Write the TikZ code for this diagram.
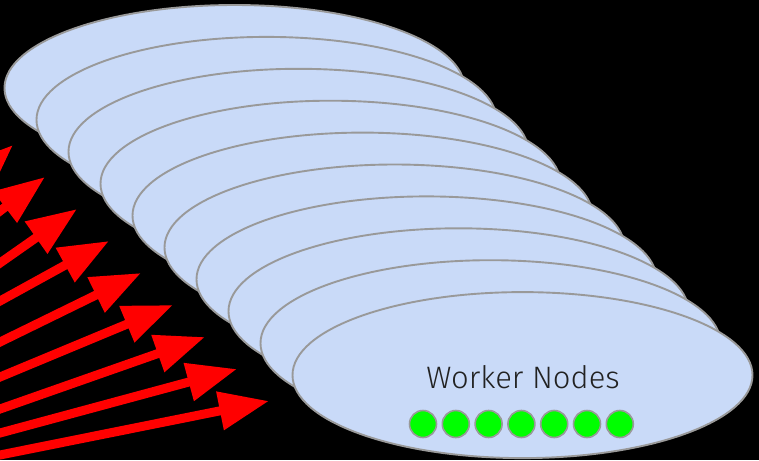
\documentclass[tikz,border=0pt]{standalone}
\usepackage{fontspec}
\newfontfamily\lightfont{Fira Sans Light}
\usetikzlibrary{arrows.meta,shapes.geometric,calc}
\definecolor{ellfill}{HTML}{C9DAF8}
\definecolor{ellline}{HTML}{999999}
\definecolor{dotgreen}{HTML}{00FF00}
\definecolor{textdark}{HTML}{222222}
\begin{document}
\begin{tikzpicture}[x=1pt,y=-1pt,
  layerell/.style={draw=ellline, line width=1.9pt, fill=ellfill, ellipse,
    minimum width=460pt, minimum height=166pt, inner sep=0pt, outer sep=0pt},
  redarrow/.style={draw=red, line width=9pt,
    -{Triangle[length=50pt, width=37pt]}},
  greendot/.style={draw=ellline, line width=1.6pt, fill=dotgreen, circle,
    minimum size=27pt, inner sep=0pt}]
\fill[black] (0,0) rectangle (759,460);
\useasboundingbox (0,0) rectangle (759,460);
% arrows
\foreach \k/\yz in {0/455,1/433,2/409,3/377,4/342,5/301,6/263,7/211,8/157} {
  \coordinate (t\k) at ({269-32*\k},{401-32*\k});
  \coordinate (l\k) at (0,\yz);
  \coordinate (s\k) at ($(t\k)!1.4!(l\k)$);
  \draw[redarrow] (s\k) -- (t\k);
}
% stacked ellipses
\foreach \k in {0,...,9} {
  \node[layerell] (e\k) at ({234.5+32*\k},{88+31.9*\k}) {};
}
\node[font=\lightfont\fontsize{31}{31}\selectfont, text=textdark, anchor=base,
  inner sep=0pt] (label) at (523,388) {Worker Nodes};
\foreach \i in {0,...,6} {
  \node[greendot] (g\i) at ({423+32.8*\i},424) {};
}
\end{tikzpicture}
\end{document}
